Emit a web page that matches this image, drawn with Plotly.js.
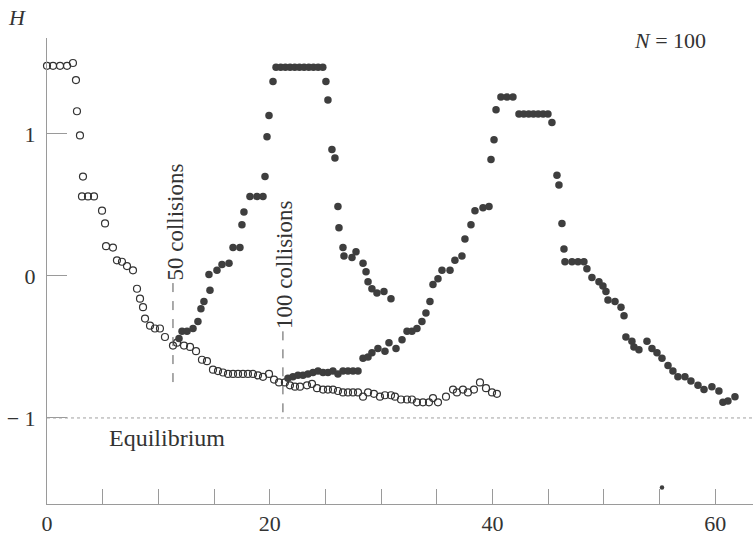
<!DOCTYPE html>
<html>
<head>
<meta charset="utf-8">
<script src="https://cdn.plot.ly/plotly-3.0.1.min.js"></script>
<style>html,body{margin:0;padding:0;background:#fff;}#chart{width:753px;height:535px;}</style>
</head>
<body>
<div id="chart"></div>
<script>
// Open circles: first run (H vs time)
const openX = [0, 0.54, 1.17, 1.80, 2.33, 2.60, 2.69, 2.96, 3.23, 3.14, 3.68, 4.22, 4.94, 5.21, 5.30, 5.92, 6.28, 6.73, 7.18, 7.72,
  8.08, 8.35, 8.62, 8.80, 9.25, 9.69, 10.14, 10.59, 11.31, 11.67, 12.30, 12.84, 13.38, 13.91, 14.36, 14.90, 15.35, 15.80, 16.25, 16.70,
  17.15, 17.59, 18.04, 18.49, 18.94, 19.39, 19.93, 20.38, 20.83, 21.36, 21.81, 22.26, 22.71, 23.34, 23.79, 24.24, 24.78, 25.22, 25.67, 26.12,
  26.57, 27.02, 27.47, 27.92, 28.37, 28.82, 29.35, 29.89, 30.34, 30.88, 31.24, 31.78, 32.32, 32.76, 33.21, 33.75, 34.29, 34.65, 35.10, 35.82,
  36.45, 36.80, 37.34, 37.79, 38.33, 38.87, 39.41, 39.95, 40.39];
const openH = [1.48, 1.48, 1.48, 1.48, 1.50, 1.38, 1.16, 0.99, 0.70, 0.56, 0.56, 0.56, 0.46, 0.37, 0.21, 0.20, 0.11, 0.10, 0.07, 0.04,
  -0.09, -0.16, -0.22, -0.30, -0.35, -0.37, -0.37, -0.43, -0.49, -0.47, -0.49, -0.50, -0.53, -0.59, -0.60, -0.66, -0.67, -0.68, -0.69, -0.69,
  -0.69, -0.69, -0.69, -0.69, -0.70, -0.71, -0.69, -0.73, -0.75, -0.75, -0.77, -0.78, -0.78, -0.77, -0.76, -0.79, -0.80, -0.80, -0.80, -0.81,
  -0.82, -0.82, -0.82, -0.82, -0.85, -0.82, -0.83, -0.85, -0.84, -0.84, -0.85, -0.87, -0.87, -0.87, -0.89, -0.89, -0.89, -0.86, -0.89, -0.85,
  -0.80, -0.82, -0.80, -0.82, -0.80, -0.75, -0.79, -0.82, -0.83];

// Filled circles: run reversed after 50 collisions
const fill1X = [11.85, 12.12, 12.57, 13.11, 13.55, 13.82, 14.09, 14.63, 14.54, 15.26, 15.71, 16.34, 16.70, 17.32, 17.50, 17.68, 18.22, 18.85, 19.39, 19.57,
  19.75, 19.93, 20.29,
  20.56, 20.98, 21.40, 21.82, 22.24, 22.66, 23.08, 23.50, 23.92, 24.34, 24.76,
  25.04, 25.22, 25.58, 25.85, 26.12, 26.21, 26.57, 26.66, 27.38, 27.74, 28.37, 28.64, 28.82, 29.17, 29.62, 30.25, 30.88];
const fill1H = [-0.44, -0.39, -0.39, -0.37, -0.32, -0.23, -0.18, -0.10, 0.01, 0.04, 0.08, 0.09, 0.20, 0.20, 0.36, 0.45, 0.56, 0.56, 0.56, 0.70,
  0.98, 1.13, 1.37,
  1.47, 1.47, 1.47, 1.47, 1.47, 1.47, 1.47, 1.47, 1.47, 1.47, 1.47,
  1.37, 1.24, 0.89, 0.83, 0.49, 0.34, 0.20, 0.14, 0.13, 0.17, 0.09, 0.03, -0.04, -0.09, -0.12, -0.11, -0.16];

// Filled circles: run reversed after 100 collisions
const fill2X = [21.63, 22.08, 22.53, 22.98, 23.43, 23.88, 24.33, 24.78, 25.22, 25.67, 26.12, 26.57, 27.02, 27.47, 27.92,
  28.37, 28.82, 29.17, 29.71, 30.34, 30.70, 31.33, 31.87, 32.32, 32.76, 33.21, 33.66, 34.02, 34.38, 34.65, 35.10, 35.46, 36.18, 36.62, 37.25,
  37.52, 38.06, 38.42, 39.14, 39.68, 39.86, 40.13, 40.31, 40.75, 41.29, 41.83,
  42.37, 42.80, 43.24, 43.67, 44.10, 44.54, 44.97,
  45.33, 45.78, 45.96, 46.23, 46.41, 46.50, 47.13, 47.67, 48.20, 48.47, 48.92, 49.55, 49.91, 50.18, 50.36, 50.99, 51.53, 51.80, 51.97,
  52.51, 52.69, 53.14, 53.86, 54.31, 54.76, 55.21, 55.75, 56.19, 56.64, 57.27, 57.81, 58.44, 58.98, 59.69, 60.32, 60.68, 61.13, 61.76];
const fill2H = [-0.72, -0.71, -0.70, -0.70, -0.69, -0.68, -0.67, -0.68, -0.68, -0.67, -0.69, -0.67, -0.67, -0.67, -0.67,
  -0.58, -0.57, -0.54, -0.51, -0.53, -0.47, -0.51, -0.45, -0.39, -0.39, -0.37, -0.32, -0.26, -0.18, -0.06, -0.02, 0.04, 0.04, 0.11, 0.14,
  0.26, 0.36, 0.46, 0.48, 0.49, 0.82, 0.96, 1.17, 1.26, 1.26, 1.26,
  1.14, 1.14, 1.14, 1.14, 1.14, 1.14, 1.14,
  1.08, 0.71, 0.64, 0.37, 0.19, 0.10, 0.10, 0.10, 0.10, 0.05, -0.01, -0.04, -0.07, -0.11, -0.17, -0.18, -0.22, -0.28, -0.43,
  -0.46, -0.50, -0.52, -0.46, -0.51, -0.54, -0.58, -0.63, -0.67, -0.71, -0.71, -0.74, -0.77, -0.80, -0.78, -0.81, -0.89, -0.88, -0.85];

// Stray printed dot
const strayX = [55.21];
const strayH = [-1.49];

const xTickVals = [0, 5, 10, 15, 20, 25, 30, 35, 40, 45, 50, 55, 60];
const xTickText = ['0', '', '', '', '20', '', '', '', '40', '', '', '', '60'];
const yTickVals = [1, 0, -1];
const yTickText = ['1', '0', '\u2212 1'];

const markOpen = '#333333';
const markFill = '#3e3e3e';
const axisGray = '#9a9a9a';
const textCol = '#333333';
const serif = '"Liberation Serif", "Times New Roman", serif';

const traces = [
  {x: openX, y: openH, type: 'scatter', mode: 'markers', cliponaxis: false,
   marker: {symbol: 'circle-open', size: 7, color: markOpen, line: {width: 1.2, color: markOpen}}},
  {x: fill1X, y: fill1H, type: 'scatter', mode: 'markers', cliponaxis: false,
   marker: {symbol: 'circle', size: 7.5, color: markFill}},
  {x: fill2X, y: fill2H, type: 'scatter', mode: 'markers', cliponaxis: false,
   marker: {symbol: 'circle', size: 7.5, color: markFill}},
  {x: strayX, y: strayH, type: 'scatter', mode: 'markers', cliponaxis: false,
   marker: {symbol: 'circle', size: 4.5, color: markFill}}
];

const layout = {
  width: 753, height: 535,
  margin: {l: 47, r: 0, t: 38, b: 31, pad: 0},
  paper_bgcolor: '#ffffff', plot_bgcolor: '#ffffff',
  showlegend: false,
  font: {family: serif, color: textCol, size: 22},
  xaxis: {
    range: [0, 63.38], showgrid: false, zeroline: false,
    showline: true, linecolor: axisGray, linewidth: 1,
    ticks: 'inside', ticklen: 15, tickcolor: axisGray, tickwidth: 1,
    tickmode: 'array', tickvals: xTickVals, ticktext: xTickText,
    tickfont: {family: serif, size: 22, color: textCol}
  },
  yaxis: {
    range: [-1.606, 1.676], showgrid: false, zeroline: false,
    showline: true, linecolor: axisGray, linewidth: 1,
    ticks: 'inside', ticklen: 20, tickcolor: axisGray, tickwidth: 1,
    tickmode: 'array', tickvals: yTickVals, ticktext: yTickText,
    tickfont: {family: serif, size: 22, color: textCol},
    ticklabelstandoff: 6
  },
  shapes: [
    {type: 'line', xref: 'paper', yref: 'y', x0: 0, x1: 1, y0: -1, y1: -1,
     line: {color: '#a0a0a0', width: 1, dash: 'dot'}},
    {type: 'line', xref: 'x', yref: 'y', x0: 11.31, x1: 11.31, y0: -0.05, y1: -0.75,
     line: {color: '#555555', width: 1, dash: 'dash'}},
    {type: 'line', xref: 'x', yref: 'y', x0: 21.18, x1: 21.18, y0: -0.39, y1: -0.96,
     line: {color: '#555555', width: 1, dash: 'dash'}}
  ],
  annotations: [
    {text: '50 collisions', xref: 'x', yref: 'y', x: 11.5, y: 0.377, textangle: -90,
     showarrow: false, font: {family: serif, size: 23, color: textCol}},
    {text: '100 collisions', xref: 'x', yref: 'y', x: 21.27, y: 0.077, textangle: -90,
     showarrow: false, font: {family: serif, size: 23, color: textCol}},
    {text: 'Equilibrium', xref: 'x', yref: 'y', x: 10.77, y: -1.14,
     showarrow: false, font: {family: serif, size: 24, color: textCol}},
    {text: '<i>N</i> = 100', xref: 'x', yref: 'y', x: 55.9, y: 1.66,
     showarrow: false, font: {family: serif, size: 22, color: textCol}},
    {text: '<i>H</i>', xref: 'paper', yref: 'paper', x: 0, y: 1, xshift: -30, yshift: 21,
     xanchor: 'center', yanchor: 'middle',
     showarrow: false, font: {family: serif, size: 22, color: textCol}}
  ]
};

Plotly.newPlot('chart', traces, layout, {displayModeBar: false, staticPlot: true});
</script>
</body>
</html>
